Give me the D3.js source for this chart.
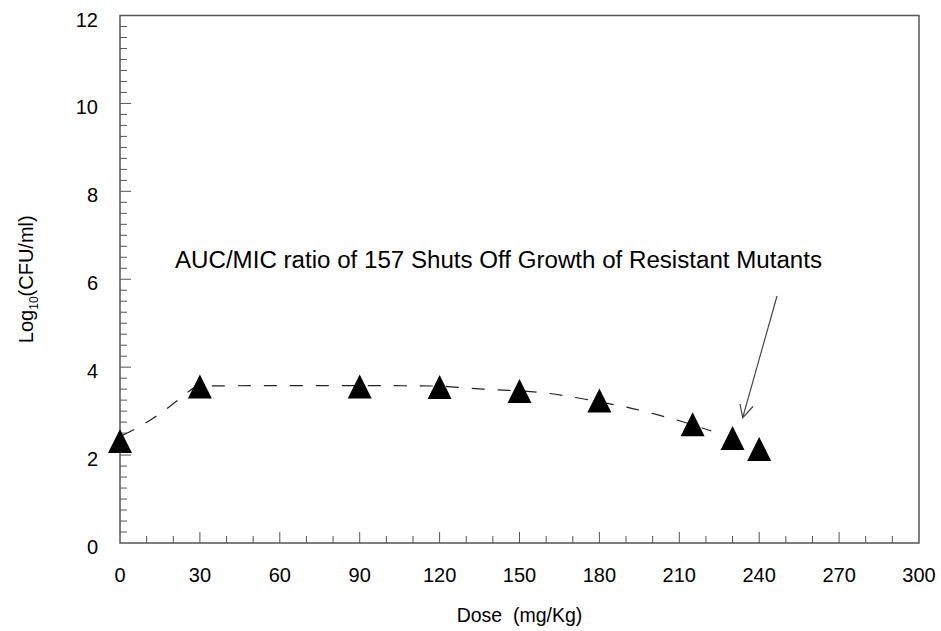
<!doctype html>
<meta charset='utf-8' />
<script src='https://cdn.jsdelivr.net/npm/d3@7'></script>
<style>
    body { margin: 0; background: #fff; }
    text { font-family: 'Liberation Sans', Arial, sans-serif; fill: #000; }
</style>
<svg></svg>
<script>
    var width = 941,
        height = 631,
        margin = { top: 15.5, right: 22, bottom: 88, left: 120 }

    // measured doses and counts
    var doses = [0, 30, 90, 120, 150, 180, 215, 230, 240]
    var logCfu = [2.32, 3.56, 3.56, 3.55, 3.46, 3.24, 2.70, 2.39, 2.14]

    // dashed fitted curve
    var fitDose = [1, 8, 17, 22, 30, 60, 90, 120, 131, 140, 160, 171, 180, 191, 201, 210, 222]
    var fitLog = [2.45, 2.67, 3.03, 3.26, 3.57, 3.58, 3.58, 3.57, 3.52, 3.49, 3.41, 3.31, 3.21, 3.08, 2.93, 2.78, 2.55]

    var xTicks = [0, 30, 60, 90, 120, 150, 180, 210, 240, 270, 300]
    var yTicks = [0, 2, 4, 6, 8, 10, 12]

    var note = 'AUC/MIC ratio of 157 Shuts Off Growth of Resistant Mutants'

    var svg = d3.select('svg')
        .attr('width', width)
        .attr('height', height)

    var x = d3.scaleLinear().domain([0, 300]).range([margin.left, width - margin.right])
    var y = d3.scaleLinear().domain([0, 12]).range([height - margin.bottom, margin.top])

    var axisColor = '#555'

    // frame
    svg.append('rect')
        .attr('x', x(0)).attr('y', y(12))
        .attr('width', x(300) - x(0)).attr('height', y(0) - y(12))
        .style('fill', 'none')
        .style('stroke', axisColor)
        .style('stroke-width', 1.5)

    // minor + major ticks, pointing inward
    var xMinor = d3.range(0, 301, 10)
    svg.append('g').selectAll('line')
        .data(xMinor.filter(d => d > 0 && d < 300))
        .enter().append('line')
        .attr('x1', d => x(d)).attr('x2', d => x(d))
        .attr('y1', y(0)).attr('y2', d => y(0) - (d % 30 == 0 ? 11 : 7))
        .style('stroke', axisColor)

    var yMinor = d3.range(0, 12.01, 0.25)
    svg.append('g').selectAll('line')
        .data(yMinor.filter(d => d > 0 && d < 12))
        .enter().append('line')
        .attr('y1', d => y(d)).attr('y2', d => y(d))
        .attr('x1', x(0)).attr('x2', d => x(0) + (d % 2 == 0 ? 11 : 7))
        .style('stroke', axisColor)

    svg.append('g').selectAll('text')
        .data(xTicks)
        .enter().append('text')
        .attr('x', d => x(d))
        .attr('y', y(0) + 38.5)
        .attr('text-anchor', 'middle')
        .attr('font-size', 20)
        .text(d => d)

    svg.append('g').selectAll('text')
        .data(yTicks)
        .enter().append('text')
        .attr('x', x(0) - 22)
        .attr('y', d => y(d) + 11)
        .attr('text-anchor', 'end')
        .attr('font-size', 20)
        .text(d => d)

    // axis titles
    svg.append('text')
        .attr('x', (x(0) + x(300)) / 2)
        .attr('y', 622)
        .attr('text-anchor', 'middle')
        .attr('font-size', 19.5)
        .style('white-space', 'pre')
        .text('Dose  (mg/Kg)')

    var ylab = svg.append('text')
        .attr('transform', 'translate(33,' + ((y(0) + y(12)) / 2) + ') rotate(-90)')
        .attr('text-anchor', 'middle')
        .attr('font-size', 20)
    ylab.append('tspan').text('Log')
    ylab.append('tspan').attr('font-size', 12).attr('dy', 5).text('10')
    ylab.append('tspan').attr('dy', -5).text('(CFU/ml)')

    // fitted curve
    var fit = fitDose.map((d, i) => [d, fitLog[i]])
    svg.append('path')
        .datum(fit)
        .attr('d', d3.line().x(d => x(d[0])).y(d => y(d[1])).curve(d3.curveMonotoneX))
        .style('fill', 'none')
        .style('stroke', '#222')
        .style('stroke-width', 1.2)
        .style('stroke-dasharray', '13,13')

    // triangles
    var tri = 'M0,-12L12,12L-12,12Z'
    svg.append('g').selectAll('path')
        .data(doses)
        .enter().append('path')
        .attr('transform', (d, i) => 'translate(' + x(d) + ',' + y(logCfu[i]) + ')')
        .attr('d', tri)
        .style('fill', '#000')

    // annotation
    svg.append('text')
        .attr('x', 175)
        .attr('y', 268)
        .attr('font-size', 23)
        .attr('textLength', 647)
        .attr('lengthAdjust', 'spacingAndGlyphs')
        .text(note)

    // arrow to the 230 mg/Kg point
    var tip = [742.7, 417.7], tail = [777, 296]
    svg.append('line')
        .attr('x1', tail[0]).attr('y1', tail[1])
        .attr('x2', tip[0]).attr('y2', tip[1])
        .style('stroke', '#444')
        .style('stroke-width', 1.2)
    svg.append('path')
        .attr('d', 'M740,404L' + tip[0] + ',' + tip[1] + 'L753,406.5')
        .style('fill', 'none')
        .style('stroke', '#444')
        .style('stroke-width', 1.2)
</script>
